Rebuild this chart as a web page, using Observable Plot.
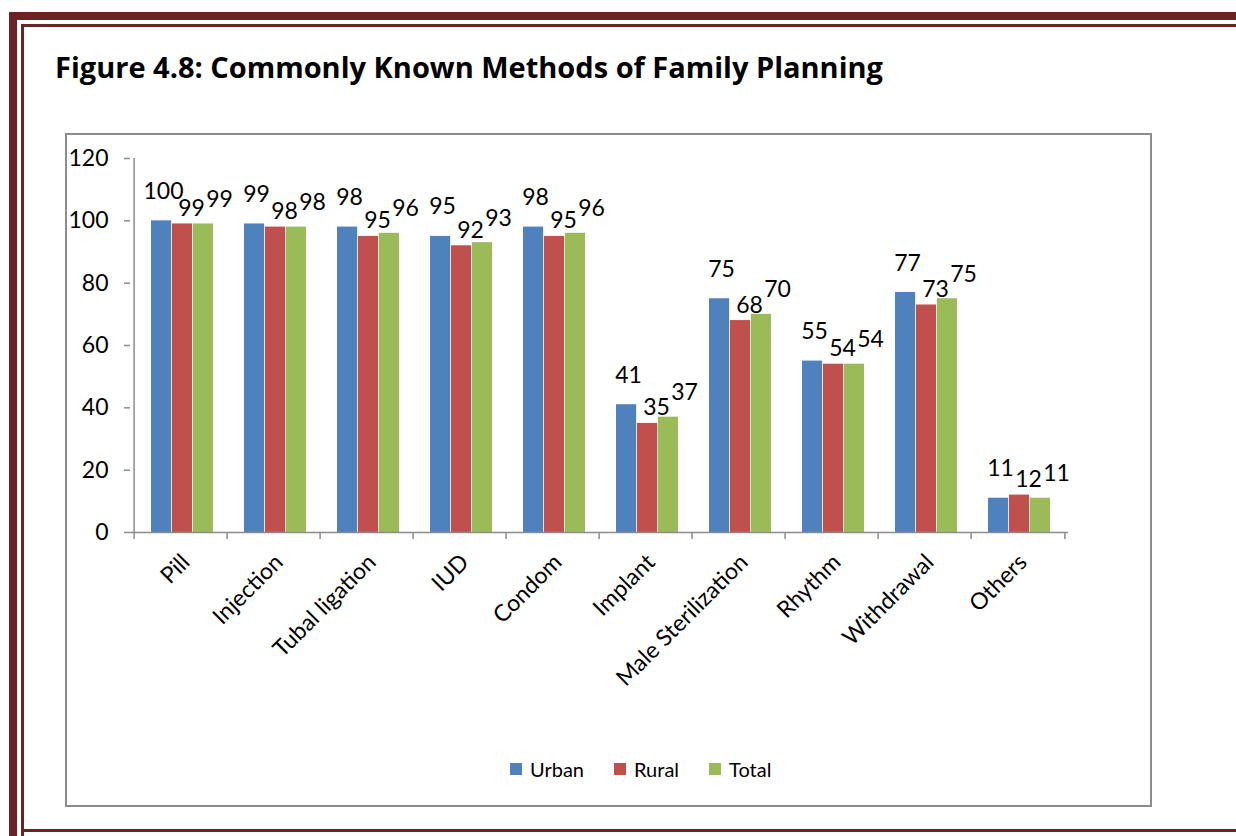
<!DOCTYPE html>
<html>
<head>
<meta charset="utf-8">
<script src="https://cdn.jsdelivr.net/npm/d3@7"></script>
<script src="https://cdn.jsdelivr.net/npm/@observablehq/plot@0.6"></script>
<style>
  html, body { margin: 0; padding: 0; background: #fff; }
  body { width: 1236px; height: 836px; position: relative; overflow: hidden; font-family: Lato, "Open Sans", sans-serif; }
  .b { position: absolute; background: #6b2426; }
  #title { position: absolute; left: 55px; top: 47px; font-family: "Open Sans", Lato, sans-serif; font-weight: 700; font-size: 29px; color: #000; white-space: nowrap; }
  #box { position: absolute; left: 65px; top: 133px; width: 1083px; height: 670px; border: 2px solid #8c8c8c; }
  #chart { position: absolute; left: 65px; top: 133px; }
  #legend { position: absolute; top: 757px; left: 510px; display: flex; align-items: center; font-family: Lato, sans-serif; font-size: 20px; color: #000; }
  #legend .item { display: flex; align-items: center; margin-right: 30px; }
  #legend .sw { width: 12px; height: 12px; margin-right: 8px; }
</style>
</head>
<body>
<div class="b" style="left:9px;top:12px;width:1227px;height:8px"></div>
<div class="b" style="left:21px;top:24px;width:1215px;height:3px"></div>
<div class="b" style="left:9px;top:12px;width:8px;height:830px"></div>
<div class="b" style="left:21px;top:24px;width:3px;height:820px"></div>
<div class="b" style="left:21px;top:829px;width:1215px;height:3px"></div>
<div id="title">Figure 4.8: Commonly Known Methods of Family Planning</div>
<div id="box"></div>
<div id="chart"></div>
<div id="legend"></div>
<script>
const categories = ["Pill","Injection","Tubal ligation","IUD","Condom","Implant","Male Sterilization","Rhythm","Withdrawal","Others"];
const series = ["Urban","Rural","Total"];
const urban = [100,99,98,95,98,41,75,55,77,11];
const rural = [99,98,95,92,95,35,68,54,73,12];
const total = [99,98,96,93,96,37,70,54,75,11];
const yTicks = [0,20,40,60,80,100,120];
const colors = ["#4F81BD","#C0504D","#9BBB59"];

const seriesValues = [urban, rural, total];
const rows = [];
series.forEach((s, i) => categories.forEach((c, j) => rows.push({method: c, series: s, si: i, value: seriesValues[i][j]})));

const W = 1085, H = 620, ML = 65, MR = 82, MT = 25, MB = 221;
const bw = (W - ML - MR) / categories.length;
const padL = 17, padR = 14;
const barW = (bw - padL - padR) / series.length;
const gray = "#8c8c8c";
const labelSpread = 28, labelShift = 9;
const labelDy = [-22, -8, -17];

const marks = [];
series.forEach((s, i) => {
  marks.push(Plot.barY(rows.filter(d => d.si === i), {
    x: "method", y: "value", fill: colors[i],
    insetLeft: padL + i * barW, insetRight: bw - padL - (i + 1) * barW
  }));
});
series.forEach((s, i) => {
  marks.push(Plot.text(rows.filter(d => d.si === i), {
    x: "method", y: "value", text: d => String(d.value),
    dx: padL + 1.5 * barW - bw / 2 + (i - 1) * labelSpread + labelShift,
    dy: labelDy[i], lineAnchor: "bottom",
    fontSize: 23, fill: "#000"
  }));
});
// baseline
marks.push(Plot.ruleY([0], {stroke: gray, strokeWidth: 1.5}));
// y axis line
marks.push(Plot.ruleX([categories[0]], {x: d => d, y1: 0, y2: 120, dx: -bw / 2, stroke: gray, strokeWidth: 1.5}));
// category boundary ticks
marks.push(Plot.ruleX(categories, {x: d => d, y1: 0, y2: 0, insetBottom: -7, dx: -bw / 2, stroke: gray, strokeWidth: 1.5}));
marks.push(Plot.ruleX([categories[categories.length - 1]], {x: d => d, y1: 0, y2: 0, insetBottom: -7, dx: bw / 2, stroke: gray, strokeWidth: 1.5}));
// y axis ticks and labels
marks.push(Plot.axisY({ticks: yTicks, tickSize: 6, tickPadding: 16, fontSize: 23, label: null, stroke: gray, strokeWidth: 1.5, fill: "#000"}));
// x labels
marks.push(Plot.text(categories, {
  x: d => d, y: 0, text: d => d, rotate: -45, textAnchor: "end",
  dx: 5, dy: 26, fontSize: 23, fill: "#000"
}));

const chart = Plot.plot({
  width: W, height: H,
  marginLeft: ML, marginRight: MR, marginTop: MT, marginBottom: MB,
  style: {fontFamily: "Lato, sans-serif", background: "transparent", overflow: "visible"},
  x: {domain: categories, padding: 0, axis: null},
  y: {domain: [0, 120], axis: null},
  marks
});
document.getElementById("chart").appendChild(chart);

const legend = document.getElementById("legend");
series.forEach((s, i) => {
  const it = document.createElement("div");
  it.className = "item";
  const sw = document.createElement("div");
  sw.className = "sw"; sw.style.background = colors[i];
  const t = document.createElement("span");
  t.textContent = s;
  it.appendChild(sw); it.appendChild(t);
  legend.appendChild(it);
});
</script>
</body>
</html>
